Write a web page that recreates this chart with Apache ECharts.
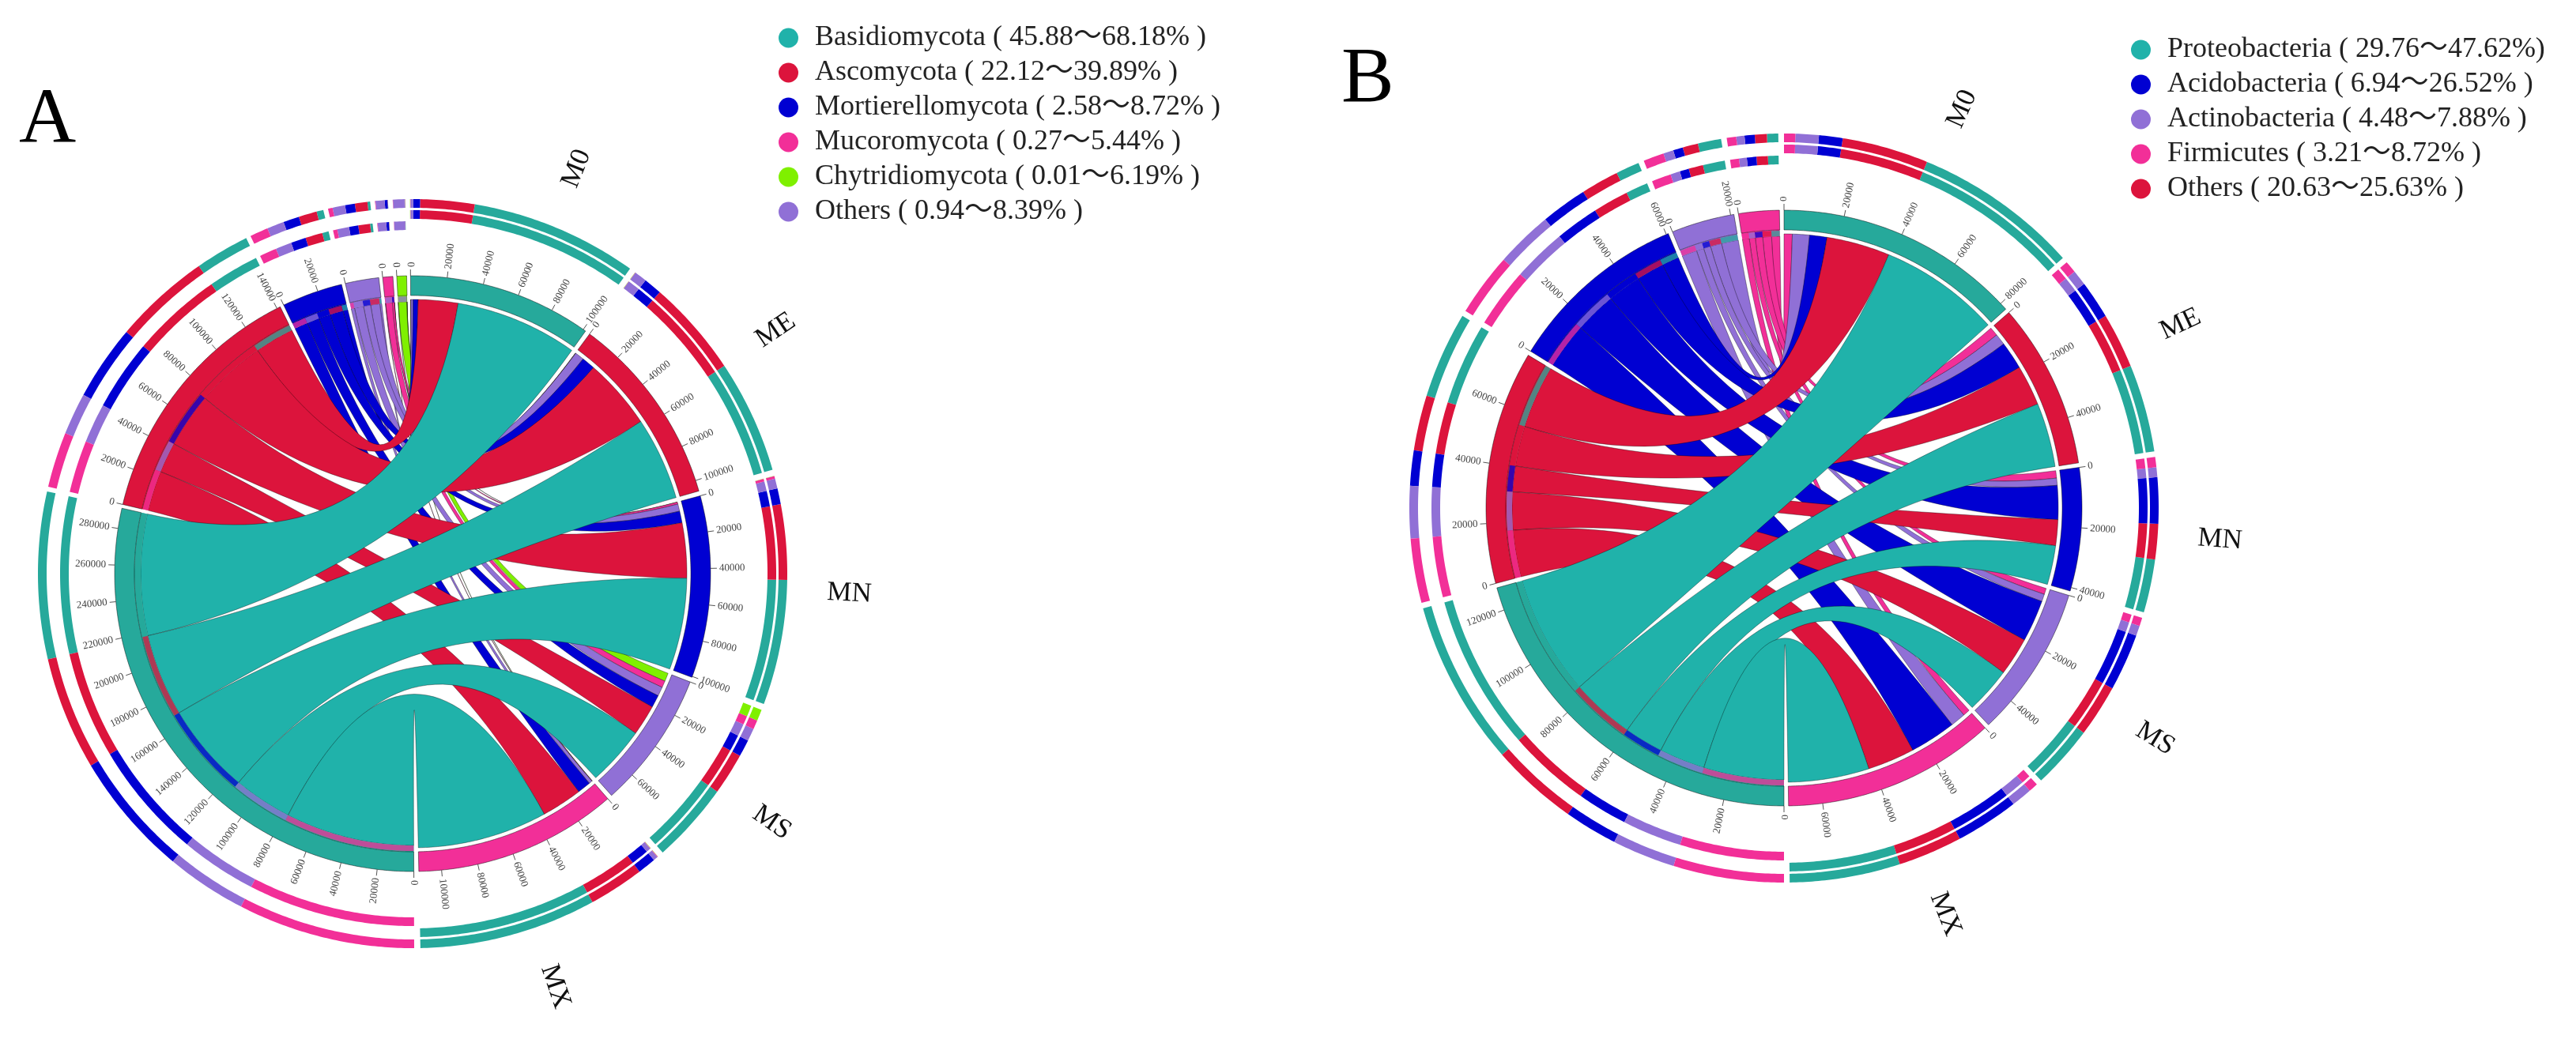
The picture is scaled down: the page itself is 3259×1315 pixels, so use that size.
<!DOCTYPE html>
<html><head><meta charset="utf-8">
<style>html,body{margin:0;padding:0;background:#fff}#c{width:3259px;height:1315px;filter:blur(0.6px)}</style>
<script src="https://cdn.jsdelivr.net/npm/echarts@6/dist/echarts.min.js"></script>
</head><body><div id="c"></div>
<script>
const samples=['M0','ME','MN','MS','MX'];
const sampleColors=['#26A99B','#DC143C','#0000D2','#9070D6','#F22F98'];

// Panel A: phyla clockwise round the circle
const phylaA=['Basidiomycota','Ascomycota','Mortierellomycota','Others','Mucoromycota','Chytridiomycota'];
const phylaColorsA=['#20B2AA','#DC143C','#0000D2','#9070D6','#F22F98','#7FF000'];
const legendA=['Basidiomycota ( 45.88～68.18% )','Ascomycota ( 22.12～39.89% )','Mortierellomycota ( 2.58～8.72% )','Mucoromycota ( 0.27～5.44% )','Chytridiomycota ( 0.01～6.19% )','Others ( 0.94～8.39% )'];
const legendOfA=[0,1,2,4,5,3];
const a_M0=[73300,23800,3000,1200,100,100];
const a_ME=[49800,42500,8000,5500,100,100];
const a_MN=[54900,33000,7000,4300,1200,100];
const a_MS=[35400,18400,7500,5500,4000,5000];
const a_MX=[77800,24300,8000,2000,200,100];

// Panel B
const phylaB=['Proteobacteria','Others','Acidobacteria','Actinobacteria','Firmicutes'];
const phylaColorsB=['#20B2AA','#DC143C','#0000D2','#9070D6','#F22F98'];
const legendB=['Proteobacteria ( 29.76～47.62%)','Acidobacteria ( 6.94～26.52% )','Actinobacteria ( 4.48～7.88% )','Firmicutes ( 3.21～8.72% )','Others ( 20.63～25.63% )'];
const legendOfB=[0,2,3,4,1];
const b_M0=[44000,23000,6300,6200,3000];
const b_ME=[23300,14700,10100,4100,3200];
const b_MN=[14200,9400,12300,2600,2700];
const b_MS=[16800,13900,15200,2700,2200];
const b_MX=[29400,17100,16800,5500,2500];

const SERIF='"Liberation Serif","Noto Sans CJK SC",serif';
const TICK_STEP=20000;
const R={band1:377,band2:352,ribS:347,ribP:344,ringA1:474,ringA0:463,ringB1:460,ringB0:449,ringC1:446,ringC0:435,tick:385,tickLabel:388,label:553};

const series=[],polar=[],radiusAxis=[],angleAxis=[];

function panel(pi,cfg){
  const m=cfg.matrix,nS=samples.length,nP=cfg.phyla.length;
  const sS=m.map(r=>r.reduce((a,b)=>a+b,0));
  const sP=cfg.phyla.map((_,p)=>m.reduce((a,r)=>a+r[p],0));
  const total=sS.reduce((a,b)=>a+b,0)+sP.reduce((a,b)=>a+b,0)+cfg.gapS*nS+cfg.gapP*nP;
  polar.push({center:cfg.center,radius:600});
  radiusAxis.push({polarIndex:pi,min:0,max:600,show:false});
  angleAxis.push({polarIndex:pi,type:'value',min:0,max:total,startAngle:cfg.start,show:false,splitLine:{show:false}});
  const sectors=[];let pos=0;
  const sSeg=[],pSeg=[];
  for(let i=0;i<nS;i++){
    const st=pos;sSeg[i]=[];
    for(let p=nP-1;p>=0;p--){sSeg[i][p]=[pos,pos+m[i][p]];pos+=m[i][p];}
    sectors.push({name:samples[i],st,en:pos,color:sampleColors[i],isS:true});pos+=cfg.gapS;
  }
  for(let p=0;p<nP;p++){
    const st=pos;pSeg[p]=[];
    for(let i=nS-1;i>=0;i--){pSeg[p][i]=[pos,pos+m[i][p]];pos+=m[i][p];}
    sectors.push({name:cfg.phyla[p],st,en:pos,color:cfg.colors[p]==='#20B2AA'?sampleColors[0]:cfg.colors[p],isS:false});pos+=cfg.gapP;
  }
  const base={type:'custom',coordinateSystem:'polar',polarIndex:pi,animation:false,silent:true};
  const arc=(api,r,a1,a2)=>{const n=Math.max(2,Math.ceil(Math.abs(a2-a1)/total*360/0.5));const o=[];
    for(let k=0;k<=n;k++)o.push(api.coord([r,a1+(a2-a1)*k/n]).slice(0,2));return o;};
  const bez=(p0,c,p1)=>{const o=[];for(let k=1;k<40;k++){const t=k/40,u=1-t;
    o.push([u*u*p0[0]+2*u*t*c[0]+t*t*p1[0],u*u*p0[1]+2*u*t*c[1]+t*t*p1[1]]);}return o;};
  const sector=(api,r1,r0,a1,a2,fill,stroke,opacity)=>({type:'polygon',shape:{points:arc(api,r1,a1,a2).concat(arc(api,r0,a2,a1))},
    style:{fill,stroke:stroke||null,lineWidth:stroke?1:0,opacity:opacity==null?1:opacity}});
  // ribbons, one series per phylum so the legend reads them
  for(let p=nP-1;p>=0;p--){
    const rows=[];for(let i=0;i<nS;i++)rows.push([i,p,m[i][p]]);
    series.push(Object.assign({},base,{name:cfg.legend[cfg.legendOf.indexOf(p)],itemStyle:{color:cfg.colors[p]},data:rows,
      renderItem(params,api){
        const i=api.value(0),q=api.value(1);
        const a=sSeg[i][q],b=pSeg[q][i];
        const A=arc(api,R.ribS,a[0],a[1]),B=arc(api,R.ribP,b[0],b[1]);
        const c=api.coord([0,0]).slice(0,2);
        const pts=A.concat(bez(A[A.length-1],c,B[0]),B,bez(B[B.length-1],c,A[0]));
        return {type:'polygon',shape:{points:pts},style:{fill:cfg.colors[q],stroke:'rgba(0,0,0,0.35)',lineWidth:1}};
      }}));
  }
  // sector band; phylum sectors also carry a base under the strip
  series.push(Object.assign({},base,{data:sectors.map((s,k)=>[k,s.en-s.st]),renderItem(params,api){
    const s=sectors[api.value(0)];
    const kids=[];
    if(!s.isS)kids.push(sector(api,R.band2,R.ribP,s.st,s.en,s.color));
    kids.push(sector(api,R.band1,R.band2,s.st,s.en,s.color,'rgba(0,0,0,0.45)'));
    return {type:'group',children:kids};}}));
  // rings and strips
  const segRows=[];
  for(let i=0;i<nS;i++)for(let p=0;p<nP;p++)segRows.push([i,p,m[i][p]]);
  series.push(Object.assign({},base,{data:segRows,renderItem(params,api){
    const i=api.value(0),p=api.value(1);
    const a=sSeg[i][p],b=pSeg[p][i];
    return {type:'group',children:[
      sector(api,R.ringA1,R.ringA0,a[0],a[1],sectors[nS+p].color),
      sector(api,R.ringB1,R.ringB0,a[0],a[1],sectors[nS+p].color),
      sector(api,R.ringA1,R.ringA0,b[0],b[1],sampleColors[i]),
      sector(api,R.ringC1,R.ringC0,b[0],b[1],sampleColors[i]),
      sector(api,R.band2-1,R.ribP,b[0],b[1],sampleColors[i],null,0.75)
    ]};}}));
  // ticks
  const tickRows=[];
  sectors.forEach((s,k)=>{for(let v=0;v<=s.en-s.st;v+=TICK_STEP)tickRows.push([k,v]);});
  series.push(Object.assign({},base,{data:tickRows,renderItem(params,api){
    const s=sectors[api.value(0)],v=api.value(1),ang=s.st+v;
    const p0=api.coord([R.band1,ang]),p1=api.coord([R.tick,ang]),pt=api.coord([R.tickLabel,ang]);
    const deg=(ang/total*360-(cfg.start-90)+720)%360,left=deg>180;
    const rot=(left?270-deg:90-deg)*Math.PI/180;
    return {type:'group',children:[
      {type:'line',shape:{x1:p0[0],y1:p0[1],x2:p1[0],y2:p1[1]},style:{stroke:'#555',lineWidth:1}},
      {type:'text',x:pt[0],y:pt[1],rotation:rot,style:{text:String(v),x:0,y:0,fill:'#444',font:'13px '+SERIF,
        align:left?'right':'left',verticalAlign:'middle'}}
    ]};}}));
  // sector names
  series.push(Object.assign({},base,{data:sectors.slice(0,nS).map((s,k)=>[k,(s.st+s.en)/2]),renderItem(params,api){
    const k=api.value(0),s=sectors[k];
    const deg=(api.value(1)/total*360-(cfg.start-90)+720)%360+cfg.labelShift[k];
    const pt=api.coord([R.label,total*(deg+cfg.start-90)/360]);
    return {type:'text',x:pt[0],y:pt[1],rotation:(90-deg)*Math.PI/180,style:{text:s.name,x:0,y:0,fill:'#111',font:'35px '+SERIF,align:'center',verticalAlign:'middle'}};
  }}));
}

panel(0,{center:[522,726],start:90.4,gapS:2700,gapP:2100,labelShift:[4.5,1,0,0,2],phyla:phylaA,colors:phylaColorsA,legend:legendA,legendOf:legendOfA,matrix:[a_M0,a_ME,a_MN,a_MS,a_MX]});
panel(1,{center:[2257,643],start:90,gapS:1500,gapP:1500,labelShift:[0,0,0,0,0],phyla:phylaB,colors:phylaColorsB,legend:legendB,legendOf:legendOfB,matrix:[b_M0,b_ME,b_MN,b_MS,b_MX]});

const legendBase={orient:'vertical',icon:'circle',padding:0,itemWidth:25,itemHeight:25,itemGap:8,selectedMode:false,
  textStyle:{fontFamily:SERIF,fontSize:36,color:'#222',padding:[0,0,0,16]}};
const chart=echarts.init(document.getElementById('c'),null,{renderer:'canvas'});
chart.setOption({
  animation:false,backgroundColor:'#fff',
  polar,radiusAxis,angleAxis,series,
  legend:[Object.assign({},legendBase,{left:985,top:30,data:legendA}),Object.assign({},legendBase,{left:2696,top:45,data:legendB})],
  graphic:[
    {type:'text',left:24,top:104,style:{text:'A',font:'100px '+SERIF,fill:'#000'}},
    {type:'text',left:1697,top:52,style:{text:'B',font:'100px '+SERIF,fill:'#000'}}
  ]
});
</script></body></html>
